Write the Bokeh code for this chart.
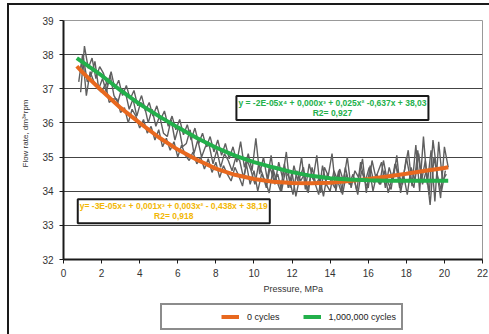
import numpy as np
from bokeh.plotting import figure
from bokeh.layouts import column
from bokeh.models import Range1d, Label, Legend, LegendItem, FixedTicker, Title
from bokeh.embed import file_html
from bokeh.resources import INLINE

# ---- data ----
trend_x = [0.7, 1, 2, 3, 4, 5, 6, 7, 8, 9, 10, 11, 12, 13, 14, 15, 16, 17, 18, 19, 20, 20.2]
trend_0cycles = [37.66, 37.48, 36.95, 36.44, 36.0, 35.58, 35.22, 34.92, 34.66, 34.48, 34.36,
                 34.28, 34.24, 34.23, 34.25, 34.3, 34.36, 34.43, 34.51, 34.6, 34.68, 34.70]
trend_1m = [37.9, 37.78, 37.39, 36.95, 36.55, 36.2, 35.87, 35.56, 35.28, 35.04, 34.85,
            34.7, 34.56, 34.45, 34.38, 34.34, 34.32, 34.31, 34.31, 34.31, 34.31, 34.31]

raw_a = [
    37.2, 38.0, 36.8, 37.5, 37.2, 37.0, 36.9, 37.15, 36.6, 36.7,
    36.7, 36.3, 36.45, 36.0, 36.4, 36.2, 35.85, 36.1, 35.7, 35.9,
    35.5, 35.8, 35.3, 35.55, 35.2, 35.45, 35.0, 35.35, 35.05, 34.9,
    35.15, 34.8, 35.0, 34.65, 34.95, 34.55, 34.85, 34.4, 34.75, 34.5,
    34.3, 34.7, 34.45, 34.15, 34.8, 34.2, 34.6, 34.0, 34.5, 34.3,
    33.95, 34.65, 34.3, 34.0, 34.8, 34.1, 34.55, 33.85, 34.4, 34.7,
    34.0, 34.5, 34.25, 33.9, 34.75, 34.2, 34.0, 34.6, 34.3, 33.95,
    34.7, 34.2, 34.5, 34.0, 34.85, 34.3, 34.1, 34.9, 34.4, 34.2,
    34.9, 34.3, 34.05, 34.8, 34.5, 34.2, 35.0, 34.4, 34.1, 35.2,
    34.3, 34.9, 33.9, 35.5, 34.6, 33.8, 35.3, 34.7]
raw_b = [
    36.9, 38.25, 37.6, 37.9, 37.3, 37.65, 37.45, 37.1, 37.5, 37.0,
    37.25, 36.8, 37.1, 36.7, 36.95, 36.5, 36.8, 36.35, 36.6, 36.2,
    36.5, 36.1, 36.35, 35.9, 36.2, 35.8, 36.1, 35.65, 35.95, 35.5,
    35.85, 35.4, 35.7, 35.3, 35.6, 35.15, 35.5, 35.05, 35.4, 34.95,
    35.3, 34.85, 35.45, 34.7, 35.1, 34.6, 35.55, 34.5, 35.0, 34.35,
    35.05, 34.2, 34.85, 34.4, 35.15, 34.1, 34.75, 34.3, 35.0, 34.05,
    34.8, 34.35, 35.05, 33.95, 34.7, 34.45, 35.1, 34.0, 34.65, 34.3,
    35.0, 34.1, 34.6, 34.4, 34.95, 33.95, 34.75, 34.25, 34.55, 34.85,
    34.1, 34.7, 34.3, 35.05, 33.95, 34.6, 35.2, 34.15, 35.35, 34.0,
    35.6, 34.2, 35.2, 33.7, 35.45, 34.3, 34.5]
raw_c = [
    37.5, 37.9, 37.2, 37.4, 37.8, 37.0, 37.3, 36.9, 37.4, 36.8,
    36.6, 37.0, 36.9, 36.4, 36.7, 36.2, 36.6, 36.5, 36.0, 36.4,
    35.9, 36.2, 35.7, 35.6, 36.1, 35.5, 35.9, 35.3, 35.4, 35.8,
    35.1, 35.5, 35.0, 35.3, 35.35, 34.8, 35.2, 34.7, 35.1, 34.9,
    34.6, 35.0, 34.9, 34.4, 34.9, 34.6, 34.2, 34.8, 34.5, 34.1,
    34.7, 34.3, 34.5, 34.0, 34.6, 34.4, 33.9, 34.6, 34.3, 34.5,
    33.95, 34.7, 34.2, 34.4, 33.85, 34.5, 34.3, 34.1, 34.6, 33.9,
    34.5, 34.2, 34.4, 33.9, 34.6, 34.3, 34.7, 34.0, 34.5, 34.2,
    34.6, 33.95, 34.4, 34.8, 34.1, 34.5, 33.9, 34.7, 34.3, 35.1,
    34.2, 34.6, 33.6, 35.0, 34.4, 34.0, 34.6]
raw_xa = np.round(0.8 + 0.2 * np.arange(len(raw_a)), 2)
raw_xb = np.round(0.9 + 0.2 * np.arange(len(raw_b)), 2)
raw_xc = np.round(0.85 + 0.2 * np.arange(len(raw_c)), 2)

x_ticks = list(range(0, 23, 2))
y_ticks = list(range(32, 40))
series_names = ["0 cycles", "1,000,000 cycles"]
eq_0 = "y= -3E-05x\u2074 + 0,001x\u00b3 + 0,003x\u00b2 - 0,438x + 38,19\nR2= 0,918"
eq_1m = "y = -2E-05x\u2074 + 0,000x\u00b3 + 0,025x\u00b2 -0,637x + 38,03\nR2= 0,927"

FONT = "Liberation Sans"
ORANGE = "#e8681e"
GREEN = "#22b04b"
YELLOW = "#f2b705"

p = figure(width=480, height=293, output_backend="svg", toolbar_location=None,
           x_range=Range1d(0, 22), y_range=Range1d(32, 39),
           min_border_left=53, min_border_right=7, min_border_top=15, min_border_bottom=39)

p.outline_line_color = "#999999"
p.xgrid.visible = False
p.ygrid.grid_line_color = "#444444"
p.ygrid.grid_line_width = 1
p.yaxis.ticker = FixedTicker(ticks=y_ticks)
p.xaxis.ticker = FixedTicker(ticks=x_ticks)
for ax in (p.xaxis[0], p.yaxis[0]):
    ax.axis_line_color = "#1a1a1a"
    ax.axis_line_width = 2
    ax.major_tick_line_color = "#1a1a1a"
    ax.major_tick_in = 0
    ax.major_tick_out = 4
    ax.minor_tick_line_color = None
    ax.major_label_text_font = FONT
    ax.major_label_text_font_size = "10px"
    ax.major_label_text_color = "#333333"
p.yaxis.major_label_standoff = 6
p.xaxis.major_label_standoff = 5

for rx, ry in ((raw_xa, raw_a), (raw_xb, raw_b), (raw_xc, raw_c)):
    p.line(rx, ry, line_color="#5f5f5f", line_width=1.4)
p.line(trend_x, trend_0cycles, line_color=ORANGE, line_width=4)
p.line(trend_x, trend_1m, line_color=GREEN, line_width=4)

xlab = Title(text="Pressure, MPa", align="left", offset=200, standoff=4,
             text_font=FONT, text_font_size="9px", text_font_style="normal",
             text_color="#333333")
p.add_layout(xlab, "below")
ylab = Title(text="Flow rate, dm\u00b3*rpm", align="left", offset=92, standoff=19,
             text_font=FONT, text_font_size="8px", text_font_style="normal",
             text_color="#333333")
p.add_layout(ylab, "left")

for eq, ex, ey, col in ((eq_1m, 14.12, 36.44, GREEN), (eq_0, 5.79, 33.41, YELLOW)):
    p.add_layout(Label(x=ex, y=ey, text=eq, text_font=FONT, text_font_size="8.5px",
                       text_font_style="bold", text_color=col, text_align="center",
                       text_baseline="middle", text_line_height=1.0,
                       border_line_color="#1a1a1a", border_line_width=2,
                       background_fill_color="white", padding=2))

# legend strip below the chart (its ranges keep the proxy lines out of view)
lg = figure(width=480, height=36, output_backend="svg", toolbar_location=None,
            x_range=Range1d(-2, -1), y_range=Range1d(0, 1),
            x_axis_location=None, y_axis_location=None,
            min_border_left=0, min_border_right=0, min_border_top=0, min_border_bottom=0)
lg.outline_line_color = None
lg.xgrid.visible = False
lg.ygrid.visible = False
r_blank = lg.line(trend_x, trend_0cycles, line_alpha=0)
r_orange = lg.line(trend_x, trend_0cycles, line_color=ORANGE, line_width=4)
r_green = lg.line(trend_x, trend_1m, line_color=GREEN, line_width=4)
legend = Legend(items=[LegendItem(label=" ", renderers=[r_blank]),
                       LegendItem(label=series_names[0], renderers=[r_orange]),
                       LegendItem(label=series_names[1], renderers=[r_green])],
                orientation="horizontal", location=(97, 4), margin=0, padding=5,
                spacing=23, glyph_width=18, glyph_height=13, label_width=5,
                label_standoff=8, label_text_font=FONT, label_text_font_size="9px",
                label_text_color="#222222", border_line_color="#1a1a1a",
                border_line_width=2, background_fill_color="white")
lg.add_layout(legend, "center")

layout = column(p, lg, spacing=0)
layout.styles = {"margin-left": "7px", "margin-top": "3px",
                 "border-left": "2px solid #1a1a1a", "border-top": "2px solid #1a1a1a"}
open("out.html", "w").write(file_html(layout, INLINE))
